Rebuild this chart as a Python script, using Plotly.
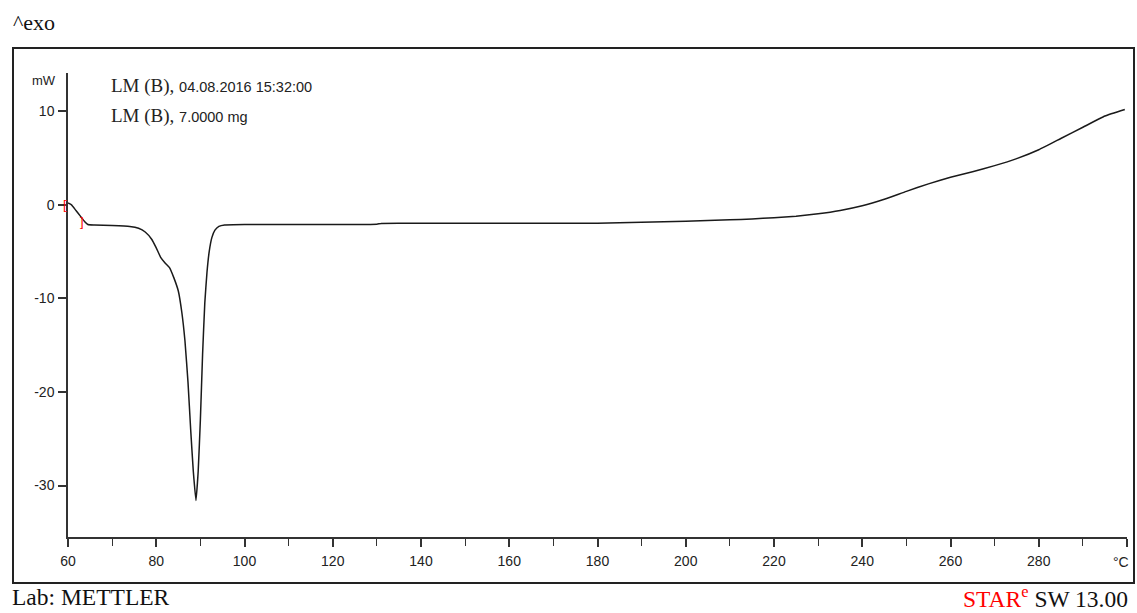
import plotly.graph_objects as go

# Temperature (°C) and heat flow (mW)
temperature = [60, 60.8, 61.8, 62.8, 63.8, 64.5, 66, 70, 74, 76, 77.5, 79, 80, 81, 82, 83, 84, 85,
               85.8, 86.5, 87.2, 87.8, 88.4, 89.0, 89.5, 90.0, 90.5, 91.0, 91.5, 92.0, 92.6, 93.3,
               94.2, 95.5, 100, 110, 120, 130, 131, 140, 160, 180, 190, 200, 210, 215, 220, 225,
               230, 235, 240, 245, 250, 255, 260, 265, 270, 275, 280, 285, 290, 295, 299.5]
heat_flow = [0.2, 0.0, -0.6, -1.2, -1.8, -2.1, -2.15, -2.2, -2.3, -2.5, -2.9, -3.7, -4.6, -5.6,
             -6.2, -6.7, -7.8, -9.2, -11.5, -14.5, -19, -24, -28.5, -31.6, -28.5, -23, -16, -10.5,
             -7.2, -5.0, -3.5, -2.7, -2.3, -2.15, -2.1, -2.1, -2.1, -2.07, -1.98, -1.97, -1.97,
             -1.96, -1.85, -1.75, -1.6, -1.5, -1.37, -1.2, -0.95, -0.6, -0.1, 0.6, 1.45, 2.25,
             2.95, 3.55, 4.2, 4.95, 5.9, 7.1, 8.3, 9.5, 10.2]

# integration limit markers
limit_t = [60.0, 63.0]
limit_v = [0.0, -1.8]
limit_txt = ["[", "]"]

x_tickvals = [60, 80, 100, 120, 140, 160, 180, 200, 220, 240, 260, 280, 300]
x_ticktext = ["60", "80", "100", "120", "140", "160", "180", "200", "220", "240", "260", "280", ""]
x_unit = "°C"
y_tickvals = [-30, -20, -10, 0, 10]
y_ticktext = ["-30", "-20", "-10", "0", "10"]

fig = go.Figure()
fig.add_trace(go.Scatter(x=temperature, y=heat_flow, mode="lines",
                         line=dict(color="#1a1a1a", width=1.5, shape="spline", smoothing=0.4),
                         hoverinfo="skip", showlegend=False))

tickfont = dict(family="Liberation Sans", size=14, color="#222")
fig.update_layout(
    width=1137, height=613,
    margin=dict(l=68, r=10, t=73, b=76, autoexpand=False),
    paper_bgcolor="white", plot_bgcolor="white",
    xaxis=dict(range=[60, 300], tickvals=x_tickvals, ticktext=x_ticktext, automargin=False,
               showgrid=False, zeroline=False, showline=True, linecolor="#333", linewidth=1.5,
               ticks="outside", ticklen=8, tickwidth=1.5, tickcolor="#333",
               tickfont=tickfont, ticklabelstandoff=2,
               minor=dict(dtick=10, tick0=70, ticks="outside", ticklen=7, tickwidth=1.3, tickcolor="#333")),
    yaxis=dict(range=[-35.5, 14.1], tickvals=y_tickvals, ticktext=y_ticktext, automargin=False,
               showgrid=False, zeroline=False, showline=True, linecolor="#333", linewidth=1.5,
               ticks="outside", ticklen=8, tickwidth=1.5, tickcolor="#333",
               tickfont=tickfont, ticklabelstandoff=1),
)

# unit label in place of the last x tick label
fig.add_annotation(x=x_tickvals[-1], y=(537 - 562) / 464, xref="x", yref="paper",
                   xanchor="right", yanchor="middle", xshift=3, showarrow=False,
                   text=x_unit, borderpad=0, font=tickfont)

for t, v, s, anc in zip(limit_t, limit_v, limit_txt, ["right", "left"]):
    fig.add_annotation(x=t, y=v, xref="x", yref="y", text=s, showarrow=False,
                       xanchor=anc, yanchor="middle", xshift=1 if anc == "right" else -3,
                       font=dict(color="red", size=13, family="Liberation Sans"))

fig.add_shape(type="rect", xref="paper", yref="paper",
              x0=(13 - 68) / 1059, x1=(1134 - 68) / 1059,
              y0=(537 - 583) / 464, y1=(537 - 48) / 464,
              line=dict(color="#222", width=2))

serif = "Liberation Serif"
fig.add_annotation(x=(11 - 68) / 1059, y=(537 - 22) / 464, xref="paper", yref="paper",
                   xanchor="left", yanchor="middle", showarrow=False, text="^exo",
                   font=dict(family=serif, size=22, color="#111"))
fig.add_annotation(x=(58 - 68) / 1059, y=(537 - 80) / 464, xref="paper", yref="paper",
                   xanchor="right", yanchor="middle", showarrow=False, text="mW",
                   font=dict(family="Liberation Sans", size=13, color="#222"))
info_lines = ["LM (B), <span style='font-family:Liberation Sans;font-size:14.5px'>04.08.2016 15:32:00</span>",
              "LM (B), <span style='font-family:Liberation Sans;font-size:14.5px'>7.0000 mg</span>"]
for i, line in enumerate(info_lines):
    fig.add_annotation(x=(109 - 68) / 1059, y=(537 - 86 - 30 * i) / 464, xref="paper", yref="paper",
                       xanchor="left", yanchor="middle", showarrow=False, text=line,
                       font=dict(family=serif, size=19, color="#222"))
fig.add_annotation(x=(11 - 68) / 1059, y=(537 - 597) / 464, xref="paper", yref="paper",
                   xanchor="left", yanchor="middle", showarrow=False, text="Lab: METTLER",
                   borderpad=0, font=dict(family=serif, size=23.5, color="#111"))
fig.add_annotation(x=(1129 - 68) / 1059, y=(537 - 597) / 464, xref="paper", yref="paper",
                   xanchor="right", yanchor="middle", showarrow=False,
                   borderpad=0,
                   text="<span style='color:red'>STAR<sup>e</sup></span> SW 13.00",
                   font=dict(family=serif, size=23.5, color="#111"))

fig.write_html("out.html", config={"displayModeBar": False},
               post_script="document.body.style.margin='0';")
